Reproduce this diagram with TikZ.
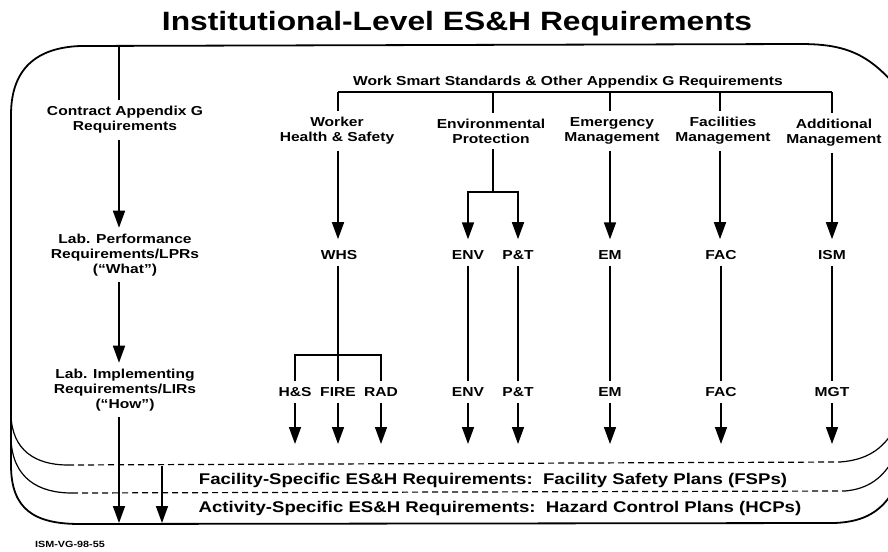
\documentclass[tikz,border=0pt]{standalone}
\usepackage{fontspec}
\setmainfont{Liberation Sans}[FakeStretch=1.2]
\usetikzlibrary{arrows.meta,positioning,calc}
\newcommand{\ttlfont}{\fontsize{26.5}{30}\selectfont\bfseries}
\newcommand{\lblfont}{\fontsize{13}{15}\selectfont\bfseries}
\newcommand{\tierfont}{\fontsize{15.5}{18}\selectfont\bfseries}
\newcommand{\tagfont}{\fontsize{9}{11}\selectfont\bfseries}

\begin{document}
\begin{tikzpicture}[x=1pt, y=-1pt,
  lbl/.style={font=\lblfont, align=center, inner sep=6pt},
  code/.style={font=\lblfont, inner sep=6pt},
  tier/.style={font=\tierfont, inner sep=2pt},
  wire/.style={line width=1.6pt},
  flow/.style={wire, -{Triangle[width=12pt,length=17pt]}},
  frame/.style={line width=1.8pt},
  sheet/.style={line width=1.2pt},
  split/.style={line width=1.2pt, dash pattern=on 6pt off 4pt}]
\useasboundingbox (0,0) rectangle (888,551);

% title and stacked frame
\node[font=\ttlfont] (title) at (457,24) {Institutional-Level ES\&H Requirements};
\draw[frame] (894,84) .. controls (866,52) and (842,44) .. (800,44) -- (80,46)
  .. controls (30,48) and (11,75) .. (11,115) -- (11,465)
  .. controls (11,510) and (35,524) .. (80,524) -- (834,523)
  .. controls (866,522) and (882,510) .. (894,490);
\draw[sheet] (11,415) .. controls (12,450) and (35,465) .. (68,465);
\draw[split] (68,465) -- (840,462);
\draw[sheet] (840,462) .. controls (866,460) and (882,450) .. (894,430);
\draw[sheet] (11,440) .. controls (13,478) and (38,493) .. (72,493);
\draw[split] (72,493) -- (845,491);
\draw[sheet] (845,491) .. controls (868,489) and (883,478) .. (894,458);

% left column
\coordinate (ctop) at (119,46);
\node[lbl] (contract) at (125,120) {Contract Appendix G\\Requirements};
\node[lbl] (lpr) at (125,255) {Lab. Performance\\Requirements/LPRs\\(“What”)};
\node[lbl] (lir) at (125,390) {Lab. Implementing\\Requirements/LIRs\\(“How”)};
\coordinate (fsp) at (162,466);
\coordinate (hcpA) at (119,523);
\coordinate (hcpB) at (162,523);
\draw[wire] (ctop) -- (contract.north -| ctop);
\draw[flow] (contract.south -| ctop) -- (lpr.north -| ctop);
\draw[flow] (lpr.south -| ctop) -- (lir.north -| ctop);
\draw[flow] (lir.south -| ctop) -- (hcpA);
\draw[flow] (fsp) -- (hcpB);

% work smart standards
\node[lbl, inner sep=2pt] (wss) at (568,82) {Work Smart Standards \& Other Appendix G Requirements};
\coordinate (d-whs) at (338,92);
\coordinate (d-env) at (493,92);
\coordinate (d-em)  at (610,92);
\coordinate (d-fac) at (720,92);
\coordinate (d-add) at (832,92);
\draw[wire] (d-whs) -- (d-add);
\node[lbl] (h-whs) at (337,131) {Worker\\Health \& Safety};
\node[lbl] (h-env) at (491,131) {Environmental\\Protection};
\node[lbl] (h-em)  at (612,131) {Emergency\\Management};
\node[lbl] (h-fac) at (723,131) {Facilities\\Management};
\node[lbl] (h-add) at (834,133) {Additional\\Management};
\foreach \c in {whs,env,em,fac,add}
  \draw[wire] (d-\c) -- (h-\c.north -| d-\c);

% LPR level
\node[code] (whs) at (339,255) {WHS};
\node[code] (env) at (468,255) {ENV};
\node[code] (pt)  at (518,255) {P\&T};
\node[code] (em)  at (610,255) {EM};
\node[code] (fac) at (721,255) {FAC};
\node[code] (ism) at (832,255) {ISM};
\coordinate (envfork) at (493,192);
\draw[flow, shorten >=5pt] (h-whs.south -| d-whs) -- (whs.north -| d-whs);
\draw[wire] (h-env.south -| d-env) -- (envfork);
\draw[flow, shorten >=5pt] (envfork) -| (env.north);
\draw[flow, shorten >=5pt] (envfork) -| (pt.north);
\draw[flow, shorten >=5pt] (h-em.south -| d-em) -- (em.north -| d-em);
\draw[flow, shorten >=5pt] (h-fac.south -| d-fac) -- (fac.north -| d-fac);
\draw[flow, shorten >=5pt] (h-add.south -| d-add) -- (ism.north -| d-add);

% LIR level
\node[code] (hs)    at (295,392) {H\&S};
\node[code] (fire)  at (338,392) {FIRE};
\node[code] (rad)   at (381,392) {RAD};
\node[code] (env-i) at (468,392) {ENV};
\node[code] (pt-i)  at (518,392) {P\&T};
\node[code] (em-i)  at (610,392) {EM};
\node[code] (fac-i) at (721,392) {FAC};
\node[code] (mgt)   at (832,392) {MGT};
\coordinate (whsfork) at (338,355);
\draw[wire] (whs.south -| d-whs) -- (whsfork);
\draw[wire] (hs.north) |- (whsfork) -| (rad.north);
\draw[wire] (whsfork) -- (fire.north);
\draw[wire] (env) -- (env-i);
\draw[wire] (pt) -- (pt-i);
\draw[wire] (em) -- (em-i);
\draw[wire] (fac) -- (fac-i);
\draw[wire] (ism) -- (mgt);
\coordinate (tipline) at (0,444);
\foreach \n in {hs,fire,rad,env-i,pt-i,em-i,fac-i,mgt}
  \draw[flow] (\n.south) -- (\n.south |- tipline);

% site and activity tiers
\node[tier] (fsp-t) at (493,480) {Facility-Specific ES\&H Requirements:~~Facility Safety Plans (FSPs)};
\node[tier] (hcp-t) at (500,508) {Activity-Specific ES\&H Requirements:~~Hazard Control Plans (HCPs)};
\node[font=\tagfont] (tag) at (70,544) {ISM-VG-98-55};
\end{tikzpicture}
\end{document}
